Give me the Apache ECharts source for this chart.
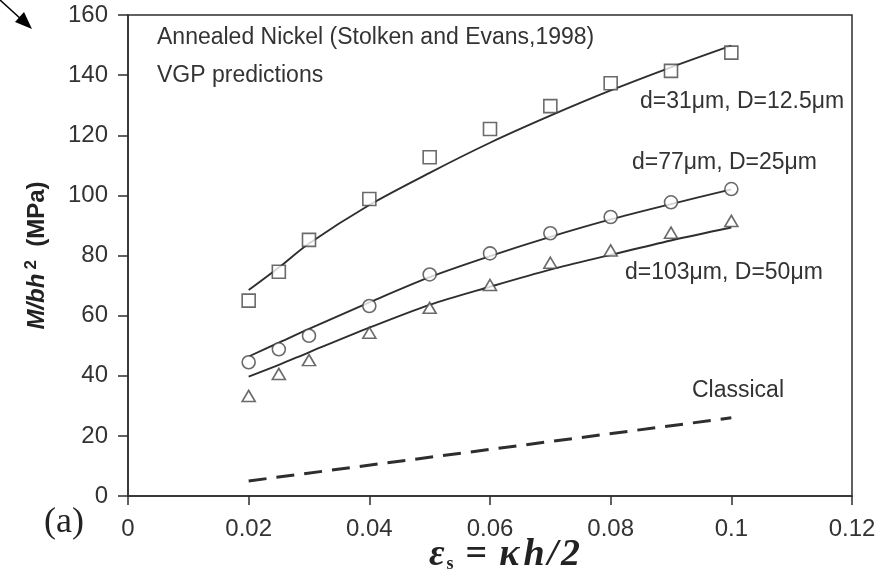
<!DOCTYPE html>
<html>
<head>
<meta charset="utf-8">
<script src="https://cdn.jsdelivr.net/npm/echarts@6/dist/echarts.min.js"></script>
<style>
  html, body { margin: 0; padding: 0; background: #fff; }
  #chart { width: 887px; height: 577px; }
</style>
</head>
<body>
<div id="chart"></div>
<script>
// Normalised strain values at which bending was measured / predicted
const strain = [0.02, 0.025, 0.03, 0.04, 0.05, 0.06, 0.07, 0.08, 0.09, 0.1];

// Measured M/bh^2 (MPa), annealed nickel foils
const expThin   = [65.0, 74.6, 85.2, 98.8, 112.7, 122.1, 129.7, 137.3, 141.4, 147.5]; // d=31um
const expMid    = [44.5, 48.8, 53.3, 63.2, 73.7, 80.7, 87.4, 92.8, 97.7, 102.1];      // d=77um
const expThick  = [33.3, 40.6, 45.2, 54.3, 62.6, 70.2, 77.6, 81.7, 87.6, 91.5];       // d=103um

// VGP model predictions (MPa)
const vgpThin   = [68.5, 76.0, 84.0, 96.8, 107.5, 117.5, 126.5, 134.9, 142.6, 149.8];
const vgpMid    = [46.4, 51.0, 55.6, 64.4, 72.8, 79.8, 86.2, 92.0, 97.1, 102.0];
const vgpThick  = [39.7, 43.6, 47.8, 56.0, 63.6, 69.6, 75.3, 80.2, 85.0, 89.3];

// Classical (size-independent) prediction
const classicalStrain = [0.02, 0.06, 0.1];
const classical       = [5.0, 15.5, 26.0];

// Axis ticks
const xTicks = { min: 0, max: 0.12, step: 0.02 };
const yTicks = { min: 0, max: 160, step: 20 };

const pairs = (xs, ys) => xs.map((x, i) => [x, ys[i]]);

const INK = '#2e2e2e';
const SANS = '"Liberation Sans", Arial, sans-serif';
const SERIF = '"Liberation Serif", "Times New Roman", serif';

const markerStyle = { color: '#ffffff', borderColor: '#454545', borderWidth: 1.6 };

function measured(data, symbol, size) {
  return {
    type: 'scatter', data: data, symbol: symbol, symbolSize: size,
    itemStyle: markerStyle, z: 3, silent: true
  };
}
function model(data) {
  return {
    type: 'line', data: data, smooth: 0.3, showSymbol: false,
    lineStyle: { color: INK, width: 1.9 }, z: 2, silent: true
  };
}

const chart = echarts.init(document.getElementById('chart'), null, { renderer: 'canvas' });

const note = (text, left, top) => ({
  type: 'text', left: left, top: top,
  style: { text: text, font: '23px ' + SANS, fill: '#333' }
});

const titleFont = { fontFamily: SERIF, fontStyle: 'italic', fontWeight: 'bold', fontSize: 38, fill: '#222' };
const spaced = (pad) => Object.assign({}, titleFont, { padding: [0, pad, 0, 0] });

chart.setOption({
  animation: false,
  backgroundColor: '#ffffff',
  grid: {
    left: 128, top: 15, right: 35, bottom: 81,
    show: true, borderColor: INK, borderWidth: 1.5, containLabel: false
  },
  xAxis: {
    type: 'value', min: xTicks.min, max: xTicks.max, interval: xTicks.step,
    axisLine: { show: true, lineStyle: { color: INK, width: 1.5 } },
    axisTick: { show: true, inside: false, length: 9, lineStyle: { color: INK, width: 1.5 } },
    axisLabel: { margin: 21, color: '#333', fontFamily: SANS, fontSize: 24 },
    splitLine: { show: false }
  },
  yAxis: {
    type: 'value', min: yTicks.min, max: yTicks.max, interval: yTicks.step,
    axisLine: { show: true, lineStyle: { color: INK, width: 1.5 } },
    axisTick: { show: true, inside: false, length: 10, lineStyle: { color: INK, width: 1.5 } },
    axisLabel: { margin: 20, color: '#333', fontFamily: SANS, fontSize: 24 },
    splitLine: { show: false },
    name: '{i|M/bh}{s|2}{n|  (MPa)}',
    nameLocation: 'middle', nameGap: 76, nameRotate: 90,
    nameTextStyle: {
      rich: {
        i: { fontFamily: SANS, fontStyle: 'italic', fontWeight: 'bold', fontSize: 24, color: '#222' },
        s: { fontFamily: SANS, fontWeight: 'bold', fontSize: 17, color: '#222', padding: [0, 0, 12, 4] },
        n: { fontFamily: SANS, fontWeight: 'bold', fontSize: 24, color: '#222' }
      }
    }
  },
  series: [
    model(pairs(strain, vgpThin)),
    model(pairs(strain, vgpMid)),
    model(pairs(strain, vgpThick)),
    {
      type: 'line', data: pairs(classicalStrain, classical), showSymbol: false, silent: true,
      lineStyle: { color: INK, width: 3, type: [18, 10] }, z: 2
    },
    measured(pairs(strain, expThin), 'rect', 13),
    measured(pairs(strain, expMid), 'circle', 13),
    measured(pairs(strain, expThick), 'triangle', [13, 11])
  ],
  graphic: [
    note('Annealed Nickel (Stolken and Evans,1998)', 157, 26),
    note('VGP predictions', 157, 64),
    note('d=31μm, D=12.5μm', 640, 90),
    note('d=77μm, D=25μm', 632, 151),
    note('d=103μm, D=50μm', 625, 261),
    note('Classical', 692, 379),
    { type: 'text', left: 44, top: 505, style: { text: '(a)', font: '36px ' + SERIF, fill: '#222' } },
    // x-axis title: ε_s = κh/2
    {
      type: 'text', left: 429, top: 536,
      style: {
        text: '{e|ε}{s|s}{q|=}{k|κ}{h|h}{l|/}{t|2}',
        rich: {
          e: titleFont,
          s: { fontFamily: SERIF, fontWeight: 'bold', fontSize: 18, fill: '#222', padding: [18, 0, 0, 2] },
          q: Object.assign({}, titleFont, { fontStyle: 'normal', padding: [0, 12, 0, 12] }),
          k: spaced(4),
          h: spaced(3),
          l: spaced(3),
          t: titleFont
        }
      }
    },
    // pointer arrow in the top-left corner
    { type: 'line', shape: { x1: 0, y1: 0, x2: 22, y2: 20 }, style: { stroke: '#000', lineWidth: 1.5 } },
    { type: 'polygon', shape: { points: [[32, 29], [15, 22], [24, 12]] }, style: { fill: '#000' } }
  ]
});
</script>
</body>
</html>
